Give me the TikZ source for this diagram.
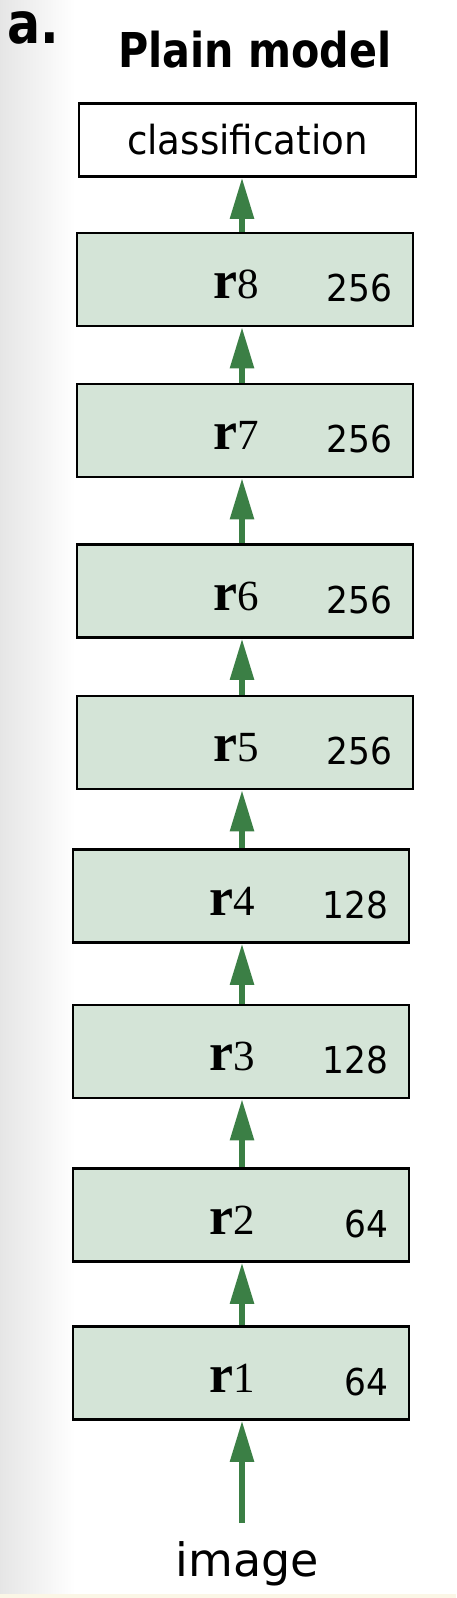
\documentclass[tikz,border=0pt]{standalone}
\usepackage{fontspec}
\usepackage{tikz}
\usetikzlibrary{positioning, arrows.meta}

\newfontfamily\labelfont{DejaVu Sans}
\newfontfamily\numfont[FakeStretch=0.93]{DejaVu Sans}
\newfontfamily\headfont[FakeStretch=0.86]{DejaVu Sans Bold}
\newfontfamily\rfont{Liberation Serif}

\definecolor{layerfill}{HTML}{D4E4D7}
\definecolor{arrowgreen}{HTML}{3B7F45}
\definecolor{paper}{HTML}{FBF6E6}

% layer label: bold r followed by its index
\newcommand{\rname}[1]{{\rfont\fontsize{54}{54}\selectfont\bfseries r}{\rfont\fontsize{43}{43}\selectfont #1}}

\tikzset{
	layer/.style={draw, line width=2.5pt, fill=layerfill, minimum width=336pt, minimum height=93pt, inner sep=0pt},
	clsbox/.style={draw, line width=2.5pt, fill=white, minimum width=337pt, minimum height=73pt, inner sep=0pt,
		font=\numfont\fontsize{40}{40}\selectfont},
	headtext/.style={inner sep=0pt, font=\headfont\fontsize{48}{48}\selectfont},
	numtext/.style={inner sep=0pt, font=\numfont\fontsize{37}{37}\selectfont},
	rtext/.style={inner sep=0pt},
	flow/.style={draw=arrowgreen, line width=5.5pt, -{Triangle[length=41pt, width=23pt]}, arrowgreen}
}

\begin{document}
\begin{tikzpicture}[x=1pt, y=1pt]
	\useasboundingbox (0,0) rectangle (456,-1598);
	\shade[left color=black!10, right color=white] (0,0) rectangle (75,-1598);
	\fill[paper] (0,-1594) rectangle (456,-1598);

	\node[headtext, anchor=base west, font=\headfont\fontsize{57}{57}\selectfont] (tag) at (7,-43) {a.};
	\node[headtext, anchor=base] (title) at (255,-67) {Plain model};
	\node[clsbox] (cls) at (247.5,-140) {classification};

	\foreach \i/\y/\x/\ch in {1/1373/241/64, 2/1215/241/64, 3/1051.5/241/128, 4/896/241/128,
		5/742.5/245/256, 6/591/245/256, 7/430.5/245/256, 8/279.5/245/256}
	{
		\node[layer] (r\i) at (\x,-\y) {};
		\node[rtext, anchor=base] (l\i) at ([xshift=-9pt, yshift=-19pt]r\i.center) {\rname{\i}};
		\node[numtext, anchor=base east] (n\i) at ([xshift=-22pt, yshift=-22pt]r\i.east) {\ch};
	}

	\node[inner sep=0pt, anchor=base, font=\labelfont\fontsize{46}{46}\selectfont] (image) at (247.5,-1576) {image};

	\coordinate (ax) at (242,0);
	\coordinate (src) at (242,-1523);
	\draw[flow] (src) -- (r1.south -| ax);
	\foreach \a/\b in {r1/r2, r2/r3, r3/r4, r4/r5, r5/r6, r6/r7, r7/r8, r8/cls}
		\draw[flow] (\a.north -| ax) -- (\b.south -| ax);
\end{tikzpicture}
\end{document}
